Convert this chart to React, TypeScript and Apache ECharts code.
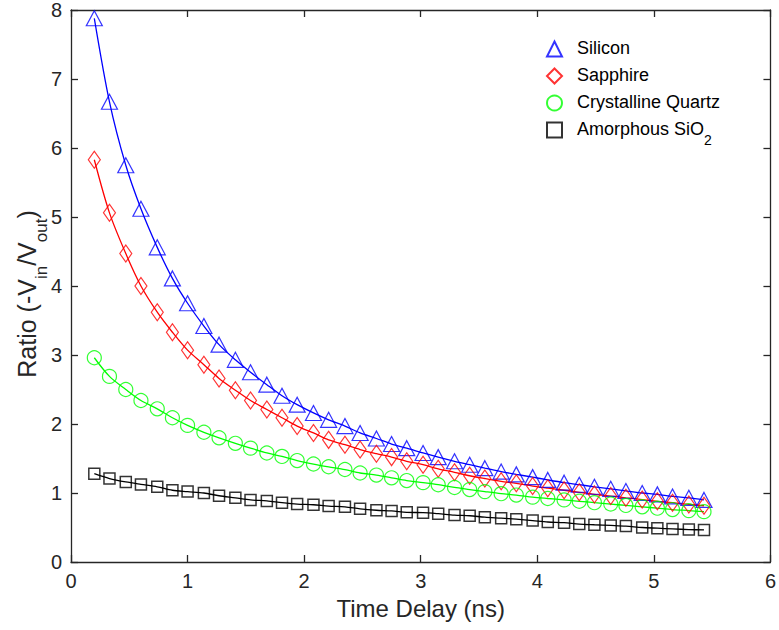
import React, { useEffect, useRef } from "react";
import * as echarts from "echarts";

// Time delay (ns) of each measured point
const timeDelay = [
  0.2, 0.33, 0.47, 0.6, 0.74, 0.87, 1.0, 1.14, 1.27, 1.41,
  1.54, 1.68, 1.81, 1.94, 2.08, 2.21, 2.35, 2.48, 2.62, 2.75,
  2.88, 3.02, 3.15, 3.29, 3.42, 3.55, 3.69, 3.82, 3.96, 4.09,
  4.23, 4.36, 4.49, 4.63, 4.76, 4.9, 5.03, 5.16, 5.3, 5.43,
];

const silicon = [
  7.88, 6.67, 5.75, 5.12, 4.56, 4.11, 3.75, 3.42, 3.15, 2.93,
  2.75, 2.57, 2.41, 2.28, 2.16, 2.06, 1.97, 1.87, 1.79, 1.71,
  1.65, 1.58, 1.52, 1.46, 1.41, 1.36, 1.31, 1.27, 1.23, 1.19,
  1.15, 1.12, 1.09, 1.06, 1.03, 1.0, 0.98, 0.95, 0.93, 0.9,
];

const sapphire = [
  5.83, 5.06, 4.47, 4.0, 3.62, 3.33, 3.07, 2.86, 2.66, 2.49,
  2.34, 2.21, 2.09, 1.97, 1.87, 1.77, 1.7, 1.63, 1.57, 1.52,
  1.46, 1.41, 1.35, 1.3, 1.25, 1.21, 1.17, 1.14, 1.1, 1.07,
  1.04, 1.01, 0.98, 0.955, 0.93, 0.905, 0.88, 0.86, 0.835, 0.815,
];

const quartz = [
  2.96, 2.69, 2.5, 2.34, 2.22, 2.09, 1.98, 1.88, 1.8, 1.72,
  1.65, 1.58, 1.53, 1.47, 1.42, 1.38, 1.34, 1.29, 1.26, 1.22,
  1.18, 1.15, 1.12, 1.08, 1.05, 1.02, 0.99, 0.97, 0.94, 0.92,
  0.9, 0.88, 0.86, 0.84, 0.82, 0.8, 0.78, 0.76, 0.745, 0.73,
];

const amorphous = [
  1.28, 1.21, 1.16, 1.125, 1.09, 1.04, 1.02, 1.0, 0.96, 0.93,
  0.9, 0.885, 0.86, 0.84, 0.83, 0.81, 0.8, 0.77, 0.75, 0.74,
  0.72, 0.715, 0.7, 0.68, 0.67, 0.65, 0.635, 0.62, 0.6, 0.58,
  0.57, 0.55, 0.54, 0.53, 0.52, 0.5, 0.49, 0.48, 0.47, 0.465,
];

const seriesNames = ["Silicon", "Sapphire", "Crystalline Quartz", "Amorphous SiO2"];
const seriesColors = ["#0000ff", "#ff0000", "#00ff00", "#000000"];
const seriesSymbols = ["triangle", "diamond", "circle", "rect"];

const FONT = "'Liberation Sans', Arial, Helvetica, sans-serif";
const AXIS_COLOR = "#262626";

export default function App() {
  const ref = useRef<HTMLDivElement>(null);

  useEffect(() => {
    if (!ref.current) return;
    const chart = echarts.init(ref.current, null, { renderer: "svg" });
    const values = [silicon, sapphire, quartz, amorphous];
    const symbolSizes: any[] = [[16, 15], [12, 17], 14, 11];
    const pair = (ys: number[]) => timeDelay.map((t, i) => [t, ys[i]]);

    const lineSeries = values.map((ys, i) => ({
      type: "line",
      name: seriesNames[i] + " fit",
      data: pair(ys),
      showSymbol: false,
      smooth: 0.3,
      lineStyle: { color: seriesColors[i], width: 1.3 },
      itemStyle: { color: seriesColors[i] },
      z: 2,
      silent: true,
    }));

    const scatterSeries = values.map((ys, i) => ({
      type: "scatter",
      name: seriesNames[i],
      data: pair(ys),
      symbol: seriesSymbols[i],
      symbolSize: symbolSizes[i],
      itemStyle: {
        color: "rgba(255,255,255,0)",
        borderColor: seriesColors[i],
        borderWidth: i === 3 ? 1.5 : 1.2,
      },
      z: 3,
    }));

    const lineStyle = { color: AXIS_COLOR, width: 1.3 };

    chart.setOption({
      animation: false,
      backgroundColor: "#ffffff",
      textStyle: { fontFamily: FONT },
      grid: { left: 71, top: 8, width: 702, height: 554, containLabel: false },
      legend: {
        orient: "vertical",
        left: 541,
        top: 34,
        itemWidth: 15,
        itemHeight: 15,
        itemGap: 2,
        data: seriesNames,
        formatter: (name: string) =>
          name === "Amorphous SiO2" ? "{t|Amorphous SiO}{s|2}" : "{t|" + name + "}",
        textStyle: {
          padding: [0, 0, 0, 10],
          rich: {
            t: {
              fontSize: 18,
              fontFamily: FONT,
              color: "#000000",
              lineHeight: 20,
              padding: [0, 0, 7, 0],
              verticalAlign: "top",
            },
            s: {
              fontSize: 14,
              fontFamily: FONT,
              color: "#000000",
              lineHeight: 14,
              padding: [13, 0, 0, 0],
              verticalAlign: "top",
            },
          },
        },
      },
      graphic: [
        {
          type: "text",
          x: 27.5,
          y: 294,
          rotation: Math.PI / 2,
          silent: true,
          style: {
            text: "{m|Ratio (-V}{s|in}{m|/V}{s|out}{m|)}",
            align: "center",
            verticalAlign: "middle",
            fill: AXIS_COLOR,
            rich: {
              m: {
                fontSize: 25,
                fontFamily: FONT,
                fill: AXIS_COLOR,
                lineHeight: 26,
                padding: [0, 0, 9, 0],
                verticalAlign: "top",
              },
              s: {
                fontSize: 17,
                fontFamily: FONT,
                fill: AXIS_COLOR,
                lineHeight: 17,
                padding: [18, 0, 0, 0],
                verticalAlign: "top",
              },
            },
          },
        },
      ],
      xAxis: [
        {
          type: "value",
          min: 0,
          max: 6,
          interval: 1,
          position: "bottom",
          axisLine: { show: true, onZero: false, lineStyle },
          axisTick: { show: true, inside: true, length: 7, lineStyle },
          axisLabel: { fontSize: 20, margin: 9, color: AXIS_COLOR, fontFamily: FONT },
          splitLine: { show: false },
          name: "Time Delay (ns)",
          nameLocation: "middle",
          nameGap: 34,
          nameTextStyle: { fontSize: 24, color: AXIS_COLOR, fontFamily: FONT },
        },
        {
          type: "value",
          min: 0,
          max: 6,
          interval: 1,
          position: "top",
          axisLine: { show: true, onZero: false, lineStyle },
          axisTick: { show: true, inside: true, length: 7, lineStyle },
          axisLabel: { show: false },
          splitLine: { show: false },
        },
      ],
      yAxis: [
        {
          type: "value",
          min: 0,
          max: 8,
          interval: 1,
          position: "left",
          axisLine: { show: true, onZero: false, lineStyle },
          axisTick: { show: true, inside: true, length: 7, lineStyle },
          axisLabel: { fontSize: 20, margin: 9, color: AXIS_COLOR, fontFamily: FONT },
          splitLine: { show: false },
        },
        {
          type: "value",
          min: 0,
          max: 8,
          interval: 1,
          position: "right",
          axisLine: { show: true, onZero: false, lineStyle },
          axisTick: { show: true, inside: true, length: 7, lineStyle },
          axisLabel: { show: false },
          splitLine: { show: false },
        },
      ],
      series: [...lineSeries, ...scatterSeries],
    });

    return () => chart.dispose();
  }, []);

  return (
    <div
      ref={ref}
      style={{ position: "fixed", left: 0, top: 0, width: 779, height: 630 }}
    />
  );
}
